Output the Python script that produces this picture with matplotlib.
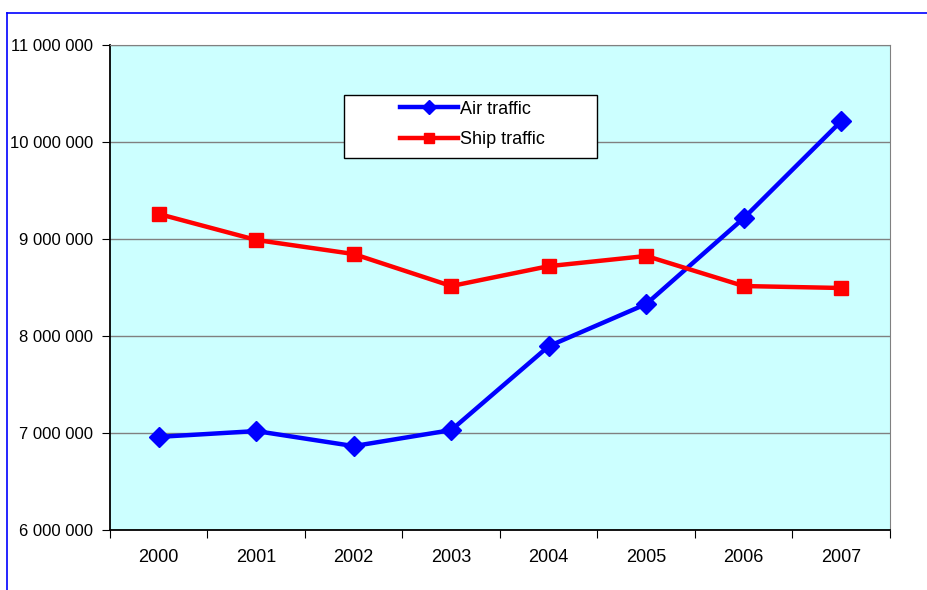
import matplotlib.pyplot as plt
from matplotlib.lines import Line2D
from matplotlib.patches import Rectangle
from matplotlib.ticker import FuncFormatter, FixedLocator

years = ["2000", "2001", "2002", "2003", "2004", "2005", "2006", "2007"]
air_traffic = [6960000, 7020000, 6865000, 7030000, 7895000, 8330000, 9215000, 10215000]
ship_traffic = [9258000, 8990000, 8845000, 8515000, 8720000, 8825000, 8515000, 8495000]

plt.rcParams['font.family'] = ['Liberation Sans', 'DejaVu Sans']

fig = plt.figure(figsize=(9.28, 5.90), dpi=100)
ax = fig.add_axes([110 / 928, 60 / 590, 780 / 928, 485 / 590])
ax.set_facecolor('#CCFFFF')

# blue outer chart frame (cut off at right/bottom)
fig.add_artist(Line2D([7 / 928, 7 / 928], [0, 1 - 13 / 590], color='#0000FF', lw=1.2))
fig.add_artist(Line2D([7 / 928, 1], [1 - 13 / 590, 1 - 13 / 590], color='#0000FF', lw=1.2))

x = list(range(len(years)))
ax.plot(x, air_traffic, color='#0000FF', lw=3.2, marker='D', ms=10,
        label='Air traffic', zorder=3)
ax.plot(x, ship_traffic, color='#FF0000', lw=3.2, marker='s', ms=10,
        label='Ship traffic', zorder=3)

ax.set_xlim(-0.5, len(years) - 0.5)
ax.set_ylim(6000000, 11000000)
ax.set_yticks(range(6000000, 11000001, 1000000))
ax.yaxis.set_major_formatter(FuncFormatter(lambda v, p: f"{int(v):,}".replace(",", " ")))
ax.grid(axis='y', color='#808080', lw=1)
ax.set_axisbelow(True)

ax.xaxis.set_major_locator(FixedLocator([i - 0.5 for i in range(len(years) + 1)]))
ax.xaxis.set_major_formatter(FuncFormatter(lambda v, p: ""))
ax.xaxis.set_minor_locator(FixedLocator(x))
ax.set_xticklabels(years, minor=True)
ax.tick_params(axis='x', which='minor', length=0, pad=14, labelsize=13)
ax.tick_params(axis='x', which='major', length=6, direction='out', color='black')
ax.tick_params(axis='y', length=6, direction='out', labelsize=12, pad=6)

for side in ['top', 'right']:
    ax.spines[side].set_color('#808080')
for side in ['left', 'bottom']:
    ax.spines[side].set_color('black')
    ax.spines[side].set_linewidth(1.3)

# legend box drawn separately so it can be wider than its entries
ax.add_patch(Rectangle((0.30, 0.767), 0.324, 0.130, transform=ax.transAxes,
                       facecolor='white', edgecolor='black', lw=1, zorder=4))
leg = ax.legend(loc='center left', bbox_to_anchor=(0.372, 0.836), fontsize=13,
                frameon=False, handlelength=3.2, handletextpad=0.1, borderpad=0,
                labelspacing=0.75, markerscale=0.75, borderaxespad=0)
leg.set_zorder(5)

fig.savefig('out.png', dpi=100)
